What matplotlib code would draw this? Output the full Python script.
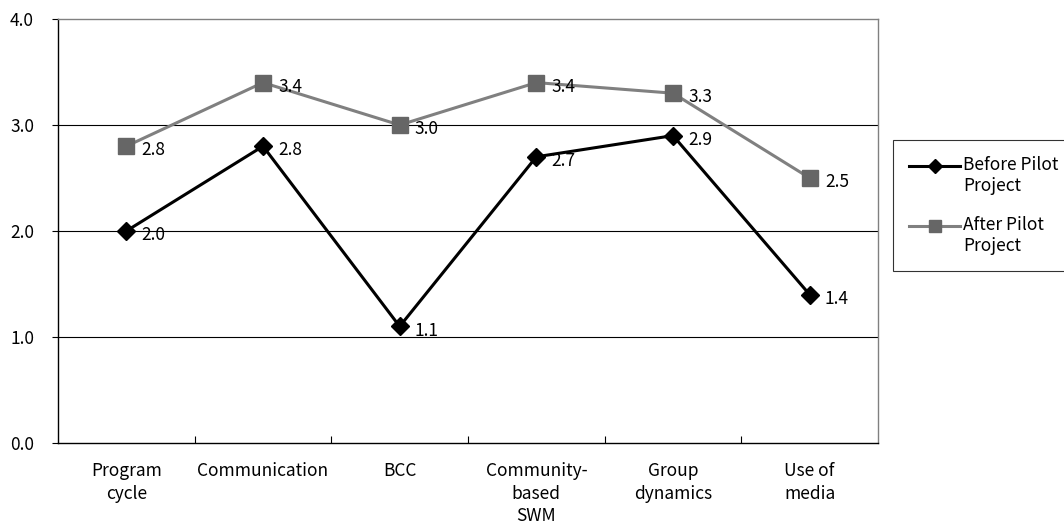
import matplotlib

matplotlib.use("Agg")

import matplotlib.pyplot as plt
import numpy as np
from matplotlib.legend_handler import HandlerLine2D

plt.rcParams["font.family"] = ["Noto Sans CJK JP", "DejaVu Sans"]

categories = [
    "Program\ncycle",
    "Communication",
    "BCC",
    "Community-\nbased\nSWM",
    "Group\ndynamics",
    "Use of\nmedia",
]
before = [2.0, 2.8, 1.1, 2.7, 2.9, 1.4]
after = [2.8, 3.4, 3.0, 3.4, 3.3, 2.5]
series_names = ["Before Pilot\nProject", "After Pilot\nProject"]

FS = 12.5


class FirstLineHandler(HandlerLine2D):
    # put the legend sample next to the first line of a two-line label
    def create_artists(self, legend, orig_handle, xdescent, ydescent, width,
                       height, fontsize, trans):
        artists = super().create_artists(legend, orig_handle, xdescent, ydescent,
                                         width, height, fontsize, trans)
        for a in artists:
            a.set_ydata(np.asarray(a.get_ydata()) + 0.62 * fontsize)
        return artists


fig = plt.figure(figsize=(10.64, 5.29), dpi=100)
ax = fig.add_axes([58 / 1064, 1 - 443 / 529, 820 / 1064, 424 / 529])

x = np.arange(len(categories))
l1, = ax.plot(x, before, color="black", linewidth=2.2, marker="D", markersize=9.5,
              markerfacecolor="black", markeredgecolor="black", label=series_names[0], zorder=4)
l2, = ax.plot(x, after, color="#808080", linewidth=2.2, marker="s", markersize=11,
              markerfacecolor="#666666", markeredgecolor="#666666", label=series_names[1], zorder=3)

for xi, v in zip(x, before):
    ax.annotate(f"{v:.1f}", (xi, v), xytext=(11, -3), textcoords="offset points",
                ha="left", va="center", fontsize=FS)
for xi, v in zip(x, after):
    ax.annotate(f"{v:.1f}", (xi, v), xytext=(11, -3), textcoords="offset points",
                ha="left", va="center", fontsize=FS)

ax.set_xlim(-0.5, len(categories) - 0.5)
ax.set_ylim(0, 4)
yt = [0, 1, 2, 3, 4]
ax.set_yticks(yt)
ax.set_yticklabels([f"{t:.1f}" for t in yt], fontsize=FS)
for yv in [1, 2, 3]:
    ax.axhline(yv, color="black", linewidth=0.8, zorder=1)

ax.set_xticks(x)
ax.set_xticklabels(categories, fontsize=FS, linespacing=1.3, va="top")
ax.tick_params(axis="x", which="major", length=0, pad=14)
ax.set_xticks(np.arange(0.5, len(categories) - 0.5), minor=True)
ax.tick_params(axis="x", which="minor", direction="in", length=5, width=0.8)
ax.tick_params(axis="y", which="major", direction="out", length=4, width=0.8, pad=30.5)
for lbl in ax.get_yticklabels():
    lbl.set_horizontalalignment("left")
    lbl.set_verticalalignment("center_baseline")

ax.spines["left"].set_color("black")
ax.spines["bottom"].set_color("black")
ax.spines["top"].set_color("#808080")
ax.spines["right"].set_color("#808080")
for sp in ax.spines.values():
    sp.set_linewidth(1.0)

leg = ax.legend(handles=[l1, l2], loc="upper left",
                bbox_to_anchor=(893 / 1064, 1 - 140 / 529),
                bbox_transform=fig.transFigure, frameon=True, fancybox=False,
                edgecolor="black", fontsize=FS, handlelength=2.9,
                handletextpad=0.2, labelspacing=1.2, borderpad=0.95,
                borderaxespad=0, markerscale=0.75,
                handler_map={matplotlib.lines.Line2D: FirstLineHandler()})
leg.get_frame().set_linewidth(0.8)

fig.savefig("out.png", dpi=100)
